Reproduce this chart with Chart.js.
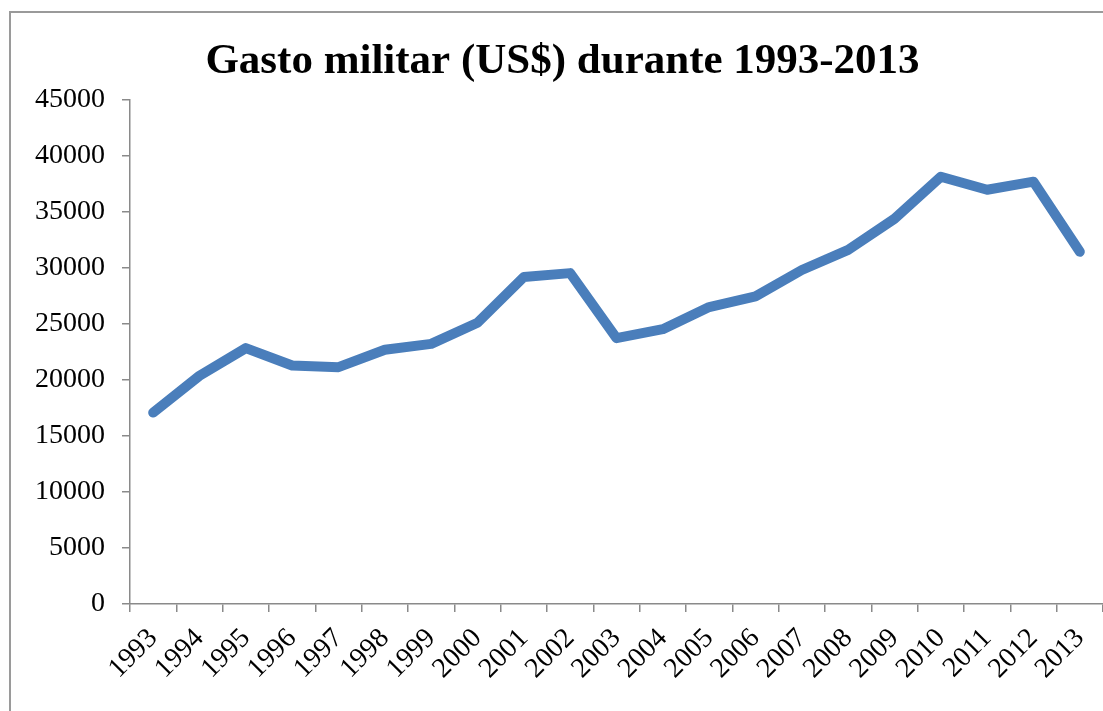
<!DOCTYPE html>
<html>
<head>
<meta charset="utf-8">
<script src="https://cdn.jsdelivr.net/npm/chart.js"></script>
<style>
  html, body { margin: 0; padding: 0; background: #fff; overflow: hidden; }
  #wrap { position: relative; width: 1103px; height: 711px; }
  #frame { position: absolute; left: 9px; top: 11px; width: 1200px; height: 800px; border: 2px solid #9a9a9a; pointer-events: none; }
  canvas { position: absolute; left: 0; top: 0; }
</style>
</head>
<body>
<div id="wrap">
  <div id="frame"></div>
  <canvas id="chart" width="1103" height="711"></canvas>
</div>
<script>
// Data
const years = ['1993', '1994', '1995', '1996', '1997', '1998', '1999', '2000', '2001', '2002', '2003',
               '2004', '2005', '2006', '2007', '2008', '2009', '2010', '2011', '2012', '2013'];
const gasto = [17080, 20360, 22830, 21280, 21130, 22680, 23210, 25090, 29170, 29520, 23720,
               24520, 26490, 27440, 29800, 31600, 34370, 38120, 36960, 37680, 31430];
const yMin = 0;
const yMax = 45000;
const yStep = 5000;

document.addEventListener('DOMContentLoaded', function() {
    const axisColor = '#8a8a8a';
    const serif = '"Liberation Serif", "Times New Roman", serif';

    new Chart(document.getElementById('chart').getContext('2d'), {
        type: 'line',
        data: {
            labels: years,
            datasets: [{
                label: 'Gasto militar',
                data: gasto,
                borderColor: '#4a7ebb',
                borderWidth: 10,
                borderCapStyle: 'round',
                borderJoinStyle: 'round',
                pointRadius: 0,
                tension: 0,
                fill: false
            }]
        },
        options: {
            responsive: false,
            animation: false,
            layout: { padding: { left: 22, right: 0, top: 0, bottom: 0 } },
            plugins: {
                legend: { display: false },
                tooltip: { enabled: false },
                title: {
                    display: true,
                    text: 'Gasto militar (US$) durante 1993-2013',
                    color: '#000',
                    font: { family: serif, size: 43, weight: 'bold', lineHeight: 1.2 },
                    padding: { top: 36, bottom: 12 }
                }
            },
            scales: {
                x: {
                    offset: true,
                    grid: { offset: true, drawOnChartArea: false, drawTicks: true, tickLength: 8, color: axisColor, lineWidth: 1.5 },
                    border: { color: axisColor, width: 1.5 },
                    ticks: {
                        color: '#000',
                        font: { family: serif, size: 28 },
                        minRotation: 45,
                        maxRotation: 45,
                        autoSkip: false,
                        padding: 10
                    },
                    afterFit: function(s) { s.height = 107; s.paddingLeft = 0; s.paddingRight = 0; }
                },
                y: {
                    min: yMin,
                    max: yMax,
                    grid: { drawOnChartArea: false, drawTicks: true, tickLength: 8, color: axisColor, lineWidth: 1.5 },
                    border: { color: axisColor, width: 1.5 },
                    ticks: {
                        stepSize: yStep,
                        color: '#000',
                        font: { family: serif, size: 28 },
                        padding: 17,
                        callback: function(v) { return String(v); }
                    },
                    afterFit: function(s) { s.width = 108; }
                }
            }
        }
    });
});
</script>
</body>
</html>
